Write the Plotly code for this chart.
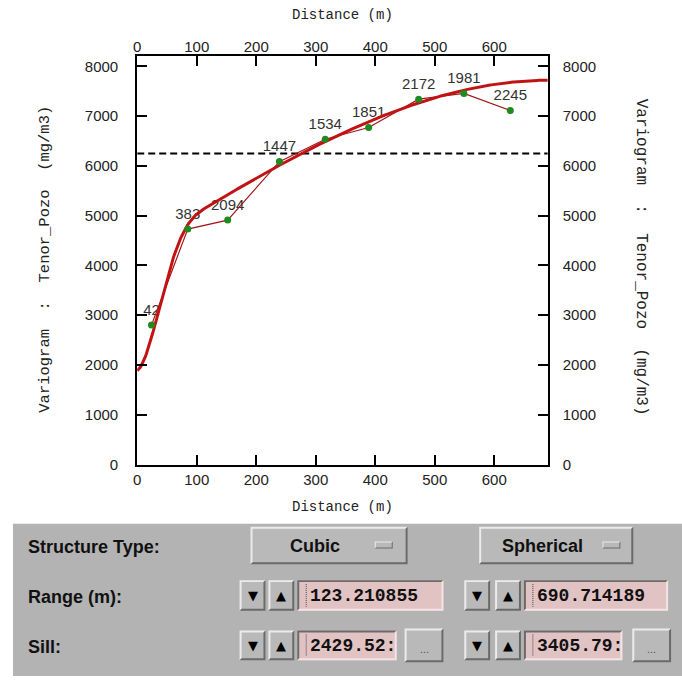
import numpy as np
import plotly.graph_objects as go

W, H = 682, 684

# Experimental semivariogram: lag distance (m), value, number of pairs
lag_dist = [24, 85, 152, 239, 316, 389, 473, 549, 627]
semivar = [2800, 4730, 4910, 6085, 6535, 6770, 7340, 7455, 7110]
pair_counts = [42, 383, 2094, 1447, 1534, 1851, 2172, 1981, 2245]

# Fitted model: nugget + cubic + spherical structures
nugget = 1885
structure_types = ["Cubic", "Spherical"]
model_ranges = [123.210855, 690.714189]
model_sills = [2429.52, 3405.79]

sample_variance = 6250

x_ticks = [0, 100, 200, 300, 400, 500, 600]
y_ticks = [0, 1000, 2000, 3000, 4000, 5000, 6000, 7000, 8000]
x_max, y_max = 690, 8200

x_title = "Distance (m)"
y_title = "Variogram\u00a0\u00a0:\u00a0\u00a0Tenor_Pozo\u00a0\u00a0(mg/m3)"


def cubic(h, a, c):
    r = np.minimum(h / a, 1.0)
    return c * (7 * r**2 - 8.75 * r**3 + 3.5 * r**5 - 0.75 * r**7)


def spherical(h, a, c):
    r = np.minimum(h / a, 1.0)
    return c * (1.5 * r - 0.5 * r**3)


h = np.linspace(0, x_max, 400)
model = (nugget
         + cubic(h, model_ranges[0], model_sills[0])
         + spherical(h, model_ranges[1], model_sills[1]))

# pixel -> paper helpers (margins are zero, so paper == whole page)
def PX(x):
    return x / W


def PY(y):
    return 1 - y / H


TICK_FONT = dict(family="Liberation Sans, Arial, sans-serif", size=15, color="#222222")
MONO = "Liberation Mono, Courier New, monospace"

fig = go.Figure()

# pair-count labels (drawn first so the lines pass over them)
fig.add_trace(go.Scatter(
    x=lag_dist, y=semivar, mode="markers+text",
    text=[str(n) for n in pair_counts], textposition="top center",
    textfont=dict(family="Liberation Sans, Arial, sans-serif", size=15, color="#333333"),
    marker=dict(size=9, color="rgba(0,0,0,0)"),
    hoverinfo="skip", showlegend=False,
))
# sample variance
fig.add_trace(go.Scatter(
    x=[0, x_max], y=[sample_variance, sample_variance], mode="lines",
    line=dict(color="black", width=2, dash="7px,4px"), showlegend=False,
))
# experimental polyline
fig.add_trace(go.Scatter(
    x=lag_dist, y=semivar, mode="lines",
    line=dict(color="#a01818", width=1.2), showlegend=False,
))
# model curve
fig.add_trace(go.Scatter(
    x=h, y=model, mode="lines",
    line=dict(color="#c01414", width=3), showlegend=False,
))
# experimental points
fig.add_trace(go.Scatter(
    x=lag_dist, y=semivar, mode="markers",
    marker=dict(size=7, color="#1f8a1f"), showlegend=False,
))
# helper trace so the top/right label axes are drawn
fig.add_trace(go.Scatter(
    x=[0], y=[0], xaxis="x2", yaxis="y2", mode="markers",
    marker=dict(size=1, color="rgba(0,0,0,0)"), showlegend=False, hoverinfo="skip",
))

xdom = [PX(134), PX(547)]
ydom = [PY(470), PY(57)]

axis_common = dict(showgrid=False, zeroline=False, tickfont=TICK_FONT)

fig.update_layout(
    width=W, height=H, margin=dict(l=0, r=0, t=0, b=0),
    paper_bgcolor="white", plot_bgcolor="white",
    xaxis=dict(domain=xdom, range=[0, x_max], tickvals=x_ticks,
               showline=True, linecolor="black", linewidth=2, mirror="ticks",
               ticks="inside", ticklen=10, tickwidth=1.5, tickcolor="black",
               anchor="y", **axis_common),
    yaxis=dict(domain=ydom, range=[0, y_max], tickvals=y_ticks,
               showline=True, linecolor="black", linewidth=2, mirror="ticks",
               ticks="inside", ticklen=10, tickwidth=1.5, tickcolor="black",
               anchor="x", ticklabelstandoff=14, **axis_common),
    xaxis2=dict(overlaying="x", side="top", matches="x", anchor="y",
                range=[0, x_max], tickvals=x_ticks, ticks="", showline=False,
                **axis_common),
    yaxis2=dict(overlaying="y", side="right", matches="y", anchor="x",
                range=[0, y_max], tickvals=y_ticks, ticks="", showline=False,
                ticklabelstandoff=14, **axis_common),
)

ann = []
shapes = []

title_font = dict(family=MONO, size=14, color="#222222")
ann.append(dict(x=PX(340), y=PY(15), text=x_title, font=title_font))
ann.append(dict(x=PX(340), y=PY(513), text=x_title, font=title_font))
ann.append(dict(x=PX(41), y=PY(262), text=y_title, textangle=-90,
                font=dict(family=MONO, size=15.5, color="#222222")))
ann.append(dict(x=PX(641), y=PY(260), text=y_title, textangle=90,
                font=dict(family=MONO, size=16, color="#222222")))
for a in ann:
    a["xanchor"] = "center"
    a["yanchor"] = "middle"

# ---- control panel ----
PANEL = "#b3b3b3"
FACE = "#b9b9b9"
LIGHT = "#ebebeb"
DARK = "#6a6a6a"
FIELD = "#e2c3c4"


def rect(x0, y0, x1, y1, color):
    shapes.append(dict(type="rect", xref="paper", yref="paper",
                       x0=PX(x0), x1=PX(x1), y0=PY(y1), y1=PY(y0),
                       fillcolor=color, line=dict(width=0), layer="above"))


def bevel(x0, y0, x1, y1, top_left, bottom_right, b=2):
    def path(pts):
        return "M " + " L ".join(f"{PX(a):.5f},{PY(c):.5f}" for a, c in pts) + " Z"
    tl = [(x0, y1), (x0, y0), (x1, y0), (x1 - b, y0 + b), (x0 + b, y0 + b), (x0 + b, y1 - b)]
    br = [(x1, y0), (x1, y1), (x0, y1), (x0 + b, y1 - b), (x1 - b, y1 - b), (x1 - b, y0 + b)]
    for pts, col in ((tl, top_left), (br, bottom_right)):
        shapes.append(dict(type="path", xref="paper", yref="paper", path=path(pts),
                           fillcolor=col, line=dict(width=0), layer="above"))


def button(x0, y0, x1, y1, b=2):
    rect(x0, y0, x1, y1, FACE)
    bevel(x0, y0, x1, y1, LIGHT, DARK, b)


def field(x0, y0, x1, y1):
    rect(x0, y0, x1, y1, FIELD)
    bevel(x0, y0, x1, y1, DARK, "#f2e4e4", 2)


def label(x, y, text, size=18, color="#111111", family="Liberation Sans, Arial, sans-serif",
          xanchor="left", bold=True):
    t = f"<b>{text}</b>" if bold else text
    ann.append(dict(x=PX(x), y=PY(y), text=t, xanchor=xanchor, yanchor="middle",
                    font=dict(family=family, size=size, color=color)))


rect(9, 530, 682, 684, PANEL)

label(22, 553, "Structure Type:")
label(22, 604, "Range (m):")
label(22, 655, "Sill:")

columns = [
    dict(menu=(248, 533, 406, 571), ind=(373, 548, 391, 555), down=237, up=266,
         field_x=295, range_end=442, sill_end=395, dots=(403, 442)),
    dict(menu=(478, 533, 633, 571), ind=(602, 548, 620, 555), down=463, up=494,
         field_x=523, range_end=668, sill_end=622, dots=(632, 671)),
]

for col, stype, rng, sill in zip(columns, structure_types, model_ranges, model_sills):
    mx0, my0, mx1, my1 = col["menu"]
    button(mx0, my0, mx1, my1)
    ix0, iy0, ix1, iy1 = col["ind"]
    button(ix0, iy0, ix1, iy1, b=1)
    label((mx0 + ix0) / 2 + 2, 552, stype, size=18, xanchor="center")

    for (fy0, fy1), fend, txt in (((587, 618), col["range_end"], f"{rng:.6f}"),
                                  ((638, 668), col["sill_end"], f"{sill:.2f}:")):
        d, u = col["down"], col["up"]
        button(d, fy0, d + 26, fy1)
        button(u, fy0, u + 26, fy1)
        label(d + 13, (fy0 + fy1) / 2, "\u25bc", size=13, xanchor="center",
              family="DejaVu Sans, sans-serif", bold=False, color="#000000")
        label(u + 13, (fy0 + fy1) / 2, "\u25b2", size=13, xanchor="center",
              family="DejaVu Sans, sans-serif", bold=False, color="#000000")
        fx = col["field_x"]
        field(fx, fy0, fend, fy1)
        # text cursor
        shapes.append(dict(type="line", xref="paper", yref="paper",
                           x0=PX(fx + 9), x1=PX(fx + 9), y0=PY(fy0 + 4), y1=PY(fy1 - 4),
                           line=dict(color="#444444", width=1, dash="1px,1px"), layer="above"))
        label(fx + 11, (fy0 + fy1) / 2 + 1, txt, size=18, family=MONO, color="#111111")

    dx0, dx1 = col["dots"]
    button(dx0, 636, dx1, 670)
    label((dx0 + dx1) / 2, 657, "...", size=11, xanchor="center", bold=False, color="#555555")

for a in ann:
    a.setdefault("xref", "paper")
    a.setdefault("yref", "paper")
    a.setdefault("showarrow", False)

fig.update_layout(annotations=ann, shapes=shapes)

fig.write_html("out.html")
